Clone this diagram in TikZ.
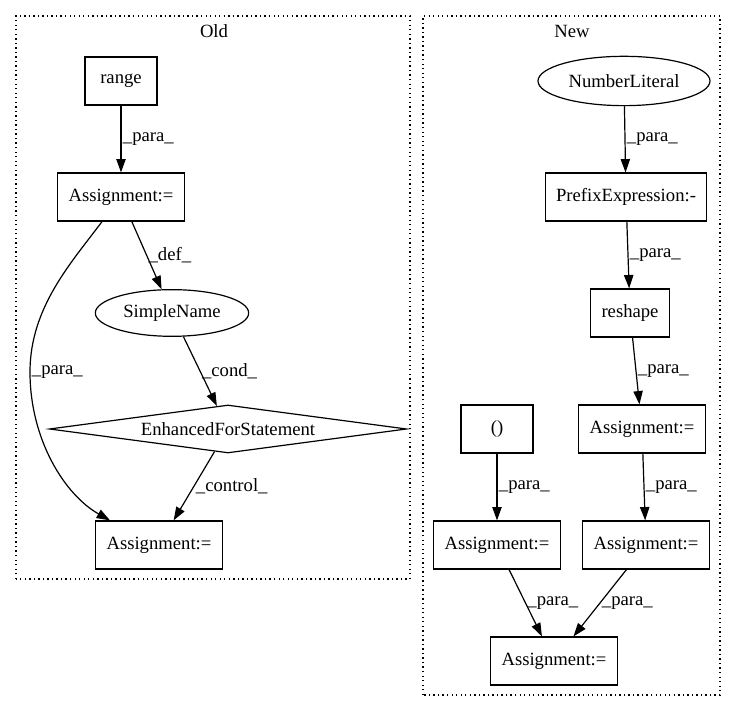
\documentclass[tikz,border=0pt]{standalone}
\usepackage{fontspec}
\setmainfont{Liberation Serif}
\usepackage{tikz}
\usetikzlibrary{arrows.meta,shapes.geometric,backgrounds}
\pgfdeclarelayer{edgelayer}
\pgfdeclarelayer{nodelayer}
\pgfsetlayers{edgelayer,nodelayer,main}
\tikzstyle{stmt}=[rectangle, draw=black, line width=0.9pt, minimum width=54pt, minimum height=36pt, inner xsep=8pt]
\tikzstyle{expr}=[ellipse, draw=black, line width=0.9pt, minimum height=35pt, inner sep=0pt]
\tikzstyle{loop}=[diamond, draw=black, line width=0.9pt, aspect=7.44, minimum width=268pt, minimum height=36pt, inner sep=0pt]
\tikzstyle{cluster}=[draw=black, line width=0.9pt, dash pattern=on 1pt off 2.4pt]
\tikzstyle{arrow}=[-{Triangle[length=10pt,width=7pt]}, draw=black, line width=0.9pt]
\tikzstyle{lbl}=[anchor=west, inner sep=1pt, pos=0.5]

\begin{document}
\begin{tikzpicture}[x=0.75pt, y=0.75pt, font=\fontsize{14pt}{16pt}\selectfont]
            \useasboundingbox (0,0) rectangle (736,712);
            \begin{pgfonlayer}{nodelayer}
                \node (old) at (214, 681) {Old};
                \node [style=stmt] (range) at (121, 631) {range};
                \node [style=stmt] (asgO1) at (121, 515) {Assignment:=};
                \node [style=expr, minimum width=115pt] (simple) at (172, 399) {SimpleName};
                \node [style=loop] (efor) at (228, 283) {EnhancedForStatement};
                \node [style=stmt] (asgO2) at (159, 167) {Assignment:=};

                \node (new) at (572, 681) {New};
                \node [style=expr, minimum width=129pt, minimum height=37pt] (numlit) at (624, 631) {NumberLiteral};
                \node [style=stmt] (prefix) at (626, 515) {PrefixExpression:-};
                \node [style=stmt] (reshape) at (630, 399) {reshape};
                \node [style=stmt] (paren) at (497, 283) {()};
                \node [style=stmt] (asgN1) at (642, 283) {Assignment:=};
                \node [style=stmt] (asgN2) at (497, 167) {Assignment:=};
                \node [style=stmt] (asgN3) at (646, 167) {Assignment:=};
                \node [style=stmt] (asgN4) at (554, 51) {Assignment:=};
            \end{pgfonlayer}
            \begin{pgfonlayer}{edgelayer}
                \draw [style=cluster] (16, 133) rectangle (410, 696);
                \draw [style=cluster] (423, 17) rectangle (720, 696);

                \draw [style=arrow] (range) to node [style=lbl] {\_para\_} (asgO1);
                \draw [style=arrow] (asgO1) to node [style=lbl] {\_def\_} (simple);
                \draw [style=arrow] (simple) to node [style=lbl] {\_cond\_} (efor);
                \draw [style=arrow] (efor) to node [style=lbl] {\_control\_} (asgO2);
                \draw [style=arrow] ([xshift=-14.25pt]asgO1.south) .. controls (72, 450) and (30, 405) .. (30, 340) node [style=lbl, pos=1] {\_para\_}
                    .. controls (30, 272) and (65, 217) .. ([xshift=-36.75pt]asgO2.north);

                \draw [style=arrow] (numlit) to node [style=lbl] {\_para\_} (prefix);
                \draw [style=arrow] (prefix) to node [style=lbl] {\_para\_} (reshape);
                \draw [style=arrow] (reshape) to node [style=lbl] {\_para\_} (asgN1);
                \draw [style=arrow] (paren) to node [style=lbl] {\_para\_} (asgN2);
                \draw [style=arrow] (asgN1) to node [style=lbl] {\_para\_} (asgN3);
                \draw [style=arrow] (asgN2) to node [style=lbl] {\_para\_} (asgN4);
                \draw [style=arrow] (asgN3) to node [style=lbl] {\_para\_} (asgN4);
            \end{pgfonlayer}
        \end{tikzpicture}
\end{document}
